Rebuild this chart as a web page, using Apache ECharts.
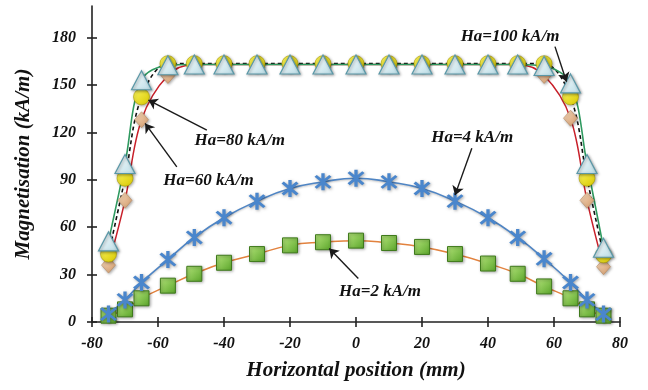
<!DOCTYPE html>
<html>
<head>
<meta charset="utf-8">
<script src="https://cdn.jsdelivr.net/npm/echarts@6/dist/echarts.min.js"></script>
<style>
  html, body { margin: 0; padding: 0; background: #fff; }
  #main { width: 648px; height: 390px; }
</style>
</head>
<body>
<div id="main"></div>
<script>
// horizontal positions of the measured points (mm)
const xPos = [-75, -70, -65, -57, -49, -40, -30, -20, -10, 0, 10, 20, 30, 40, 49, 57, 65, 70, 75];
// magnetisation (kA/m) for every applied field
const ha2 = [4, 8, 15, 23, 30.5, 37.5, 43, 48.5, 50.5, 51.5, 50, 47.5, 43, 37, 30.5, 22.5, 15, 8, 4];
const ha4 = [5, 14, 25, 39.5, 53.5, 66, 76.5, 84.5, 88.7, 91, 88.7, 84.5, 76.5, 66, 53.5, 40, 25, 14, 5];
const ha60 = [36, 77, 128, 156, 163, 163, 163, 163, 163, 163, 163, 163, 163, 163, 163, 156, 129, 77, 35];
const ha80 = [43, 91, 142.5, 163.5, 163.5, 163.5, 163.5, 163.5, 163.5, 163.5, 163.5, 163.5, 163.5, 163.5, 163.5, 163.5, 142.5, 91, 42.5];
const ha100 = [51, 100, 153, 162.5, 163, 163, 163, 163, 163, 163, 163, 163, 163, 163, 163, 162, 151, 100, 47];

const xTicks = [-80, -60, -40, -20, 0, 20, 40, 60, 80];
const yTicks = [0, 30, 60, 90, 120, 150, 180];

// annotations: label, label centre, arrow start, arrow tip (data coordinates)
const notes = [
  { text: 'Ha=100 kA/m', at: [46.7, 180.6], from: [60.3, 174.3], to: [63.8, 152.1] },
  { text: 'Ha=80 kA/m', at: [-35.2, 114.7], from: [-45.2, 121.5], to: [-62.9, 140.5] },
  { text: 'Ha=60 kA/m', at: [-44.7, 89.4], from: [-54.3, 98.2], to: [-63.9, 125.7] },
  { text: 'Ha=4 kA/m', at: [35.2, 117], from: [35.1, 109.9], to: [30, 80.3] },
  { text: 'Ha=2 kA/m', at: [7.3, 19], from: [0.7, 27.5], to: [-8.1, 46.5] }
];

const pair = (ys) => xPos.map((x, i) => [x, ys[i]]);
const font = { fontFamily: 'Liberation Serif', fontWeight: 'bold', fontStyle: 'italic', color: '#111' };
const grad = (a, b) => new echarts.graphic.LinearGradient(0, 0, 1, 1, [
  { offset: 0, color: a }, { offset: 1, color: b }
]);
const shadow = { shadowBlur: 3, shadowColor: 'rgba(0,0,0,0.35)', shadowOffsetX: 1, shadowOffsetY: 1 };
const tickStyle = { color: '#222', width: 1.6 };

// asterisk-like star: X plus a vertical bar
const starPath = 'path://M-1.6,-10 L1.6,-10 L1.6,10 L-1.6,10 Z ' +
  'M-8.2,-6 L-6,-8.2 L8.2,6 L6,8.2 Z ' +
  'M6,-8.2 L8.2,-6 L-6,8.2 L-8.2,6 Z';

var myChart = echarts.init(document.getElementById('main'));

let o = {
  backgroundColor: '#fff',
  animation: false,
  grid: { left: 92, right: 28, top: 6, bottom: 68 },
  xAxis: [{
    type: 'value', min: -80, max: 80, interval: 20,
    name: 'Horizontal position (mm)', nameLocation: 'middle', nameGap: 38,
    nameTextStyle: Object.assign({ fontSize: 21 }, font),
    axisLine: { show: true, onZero: false, lineStyle: tickStyle },
    axisTick: { show: true, length: 5, lineStyle: tickStyle, customValues: xTicks },
    axisLabel: Object.assign({ fontSize: 16, margin: 14, customValues: xTicks }, font),
    splitLine: { show: false }
  }, {
    type: 'value', min: -80, max: 80, interval: 20, position: 'bottom',
    axisLine: { show: false, onZero: false }, axisLabel: { show: false }, splitLine: { show: false },
    axisTick: { show: true, inside: true, length: 5, lineStyle: tickStyle, customValues: xTicks }
  }],
  yAxis: [{
    type: 'value', min: 0, max: 200, interval: 30,
    name: 'Magnetisation (kA/m)', nameLocation: 'middle', nameGap: 58, nameRotate: 90,
    nameTextStyle: Object.assign({ fontSize: 21 }, font),
    axisLine: { show: true, onZero: false, lineStyle: tickStyle },
    axisTick: { show: true, length: 5, lineStyle: tickStyle, customValues: yTicks },
    axisLabel: Object.assign({ fontSize: 16, margin: 16, customValues: yTicks }, font),
    splitLine: { show: false }
  }, {
    type: 'value', min: 0, max: 200, interval: 30, position: 'left',
    axisLine: { show: false, onZero: false }, axisLabel: { show: false }, splitLine: { show: false },
    axisTick: { show: true, inside: true, length: 5, lineStyle: tickStyle, customValues: yTicks }
  }],
  series: [{
    name: 'Ha=2', type: 'line', data: pair(ha2), smooth: true,
    lineStyle: { color: '#e2823e', width: 1.5 },
    symbol: 'rect', symbolSize: 15,
    itemStyle: Object.assign({ color: grad('#b4e47a', '#5aa52a'), borderColor: '#3f7a1c', borderWidth: 1 }, shadow)
  }, {
    name: 'Ha=4', type: 'line', data: pair(ha4), smooth: true,
    lineStyle: { color: '#4f85c4', width: 1.6, shadowBlur: 2, shadowColor: 'rgba(0,0,0,0.25)', shadowOffsetY: 1 },
    symbol: starPath, symbolSize: 17,
    itemStyle: Object.assign({ color: '#4a86cc' }, shadow)
  }, {
    name: 'Ha=60', type: 'line', data: pair(ha60), smooth: 0.35,
    lineStyle: { color: '#c8202a', width: 1.5 },
    symbol: 'diamond', symbolSize: [14, 16],
    itemStyle: Object.assign({ color: grad('#f8dcc0', '#d09868'), borderColor: '#b88a60', borderWidth: 0.6 }, shadow)
  }, {
    name: 'Ha=80', type: 'line', data: pair(ha80), smooth: 0.35,
    lineStyle: { color: '#111', width: 1.6, type: [4, 3] },
    symbol: 'circle', symbolSize: 16,
    itemStyle: Object.assign({ color: grad('#fbf560', '#d8c800'), borderColor: '#a89a00', borderWidth: 0.6 }, shadow)
  }, {
    name: 'Ha=100', type: 'line', data: pair(ha100), smooth: 0.35,
    lineStyle: { color: '#2f9a60', width: 1.6 },
    symbol: 'triangle', symbolSize: [20, 19],
    itemStyle: Object.assign({ color: grad('#ffffff', '#b8dce6'), borderColor: '#5a98a8', borderWidth: 1.2 }, shadow),
    // annotation arrows and labels, drawn on top of the markers
    markLine: {
      silent: true, symbol: ['none', 'arrow'], symbolSize: 9, label: { show: false },
      lineStyle: { color: '#1a1a1a', width: 1.4, type: 'solid' },
      emphasis: { disabled: true },
      data: notes.map(n => [{ coord: n.from }, { coord: n.to }])
    },
    markPoint: {
      silent: true, symbol: 'circle', symbolSize: 0,
      label: Object.assign({ show: true, fontSize: 17, formatter: p => p.name }, font),
      data: notes.map(n => ({ name: n.text, coord: n.at }))
    }
  }]
};

myChart.setOption(o);
</script>
</body>
</html>
